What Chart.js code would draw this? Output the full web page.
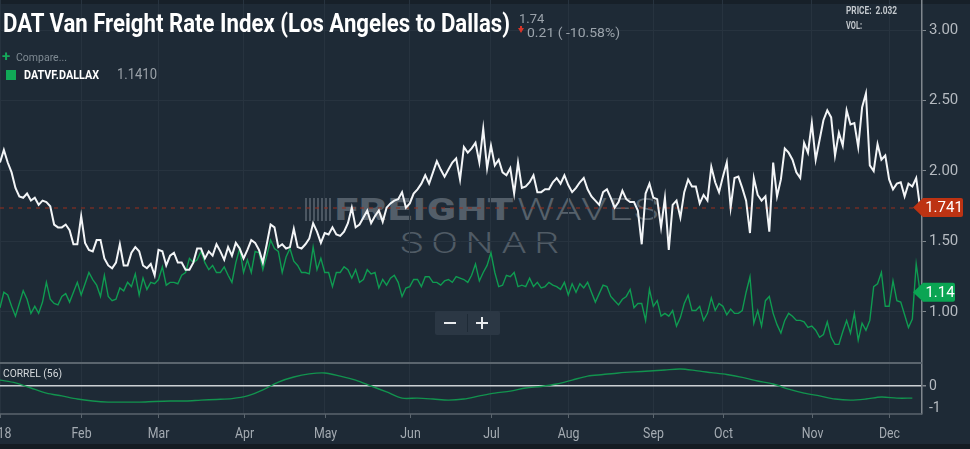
<!DOCTYPE html>
<html><head><meta charset="utf-8">
<script src="https://cdn.jsdelivr.net/npm/chart.js@4.4.1/dist/chart.umd.min.js"></script>
<style>
html,body{margin:0;padding:0;background:#1e2a36;width:970px;height:449px;overflow:hidden;font-family:Roboto,"Noto Sans",sans-serif;}
#wrap{position:relative;width:970px;height:449px;background:#1e2a36;}
.abs{position:absolute;white-space:nowrap;line-height:1;transform-origin:0 0;}
.fit{display:inline-block;}
</style></head><body>
<div id="wrap">
 <div class="abs" style="left:0;top:0;width:970px;height:4px;background:#172029"></div>
 <div class="abs" style="left:0;top:444px;width:970px;height:5px;background:#141b22"></div>
 <!-- watermark -->
 <div class="abs" style="left:305px;top:198px;width:26px;height:23px;background:repeating-linear-gradient(90deg,#515c67 0 2px,transparent 2px 4px);opacity:0.9"></div>
 <div class="abs fit" data-w="180" style="left:335px;top:194px;font-size:31px;font-weight:900;color:#535e69;letter-spacing:1px">FREIGHT</div>
 <div class="abs fit" data-w="143" style="left:517px;top:194px;font-size:31px;font-weight:300;color:#56616b;letter-spacing:1px">WAVES</div>
 <div class="abs fit" data-w="167" style="left:400px;top:228px;font-size:30px;font-weight:300;color:#505b65;letter-spacing:6px">SONAR</div>
 <div style="position:absolute;left:0;top:0;width:970px;height:362px"><canvas id="c1" width="970" height="362"></canvas></div>
 <div style="position:absolute;left:0;top:362px;width:970px;height:82px"><canvas id="c2" width="970" height="82"></canvas></div>
 <!-- header texts -->
 <div class="abs fit" data-w="507" style="left:3px;top:10px;font-size:26px;font-weight:700;color:#ffffff">DAT Van Freight Rate Index (Los Angeles to Dallas)</div>
 <div class="abs" style="left:519px;top:12px;font-size:13px;color:#9ba3ab">1.74</div>
 <div class="abs" style="left:518px;top:28px;width:0;height:0;border-left:3px solid transparent;border-right:3px solid transparent;border-top:5px solid #d8352a"></div>
 <div class="abs" style="left:520px;top:26px;width:2px;height:3px;background:#d8352a"></div>
 <div class="abs fit" data-w="93" style="left:527px;top:25.5px;font-size:13.5px;color:#9ba3ab">0.21 ( -10.58%)</div>
 <div class="abs" style="left:2px;top:49px;font-size:15px;font-weight:700;color:#16a85a">+</div>
 <div class="abs fit" data-w="51" style="left:16px;top:52px;font-size:11.5px;color:#7f8a93">Compare...</div>
 <div class="abs" style="left:6px;top:70px;width:10px;height:10px;background:#10a957"></div>
 <div class="abs fit" data-w="75" style="left:24px;top:69.2px;font-size:12.2px;font-weight:700;color:#ffffff">DATVF.DALLAX</div>
 <div class="abs fit" data-w="40" style="left:117px;top:68px;font-size:14.5px;color:#9aa1a8">1.1410</div>
 <div class="abs fit" data-w="51" style="left:846px;top:6.2px;font-size:10.5px;font-weight:700;color:#c3c8cd">PRICE:&nbsp; 2.032</div>
 <div class="abs fit" data-w="16" style="left:846px;top:20.7px;font-size:10.5px;font-weight:700;color:#c3c8cd">VOL:</div>
 <div class="abs fit" data-w="59" style="left:3px;top:369px;font-size:10.5px;color:#d5d9dc">CORREL (56)</div>
 <!-- zoom buttons -->
 <div class="abs" style="left:435px;top:311px;width:65px;height:24px;background:#2b3744;border-radius:2px"></div>
 <div class="abs" style="left:467px;top:314px;width:1px;height:18px;background:#1e2a36"></div>
 <div class="abs" style="left:444px;top:322px;width:12px;height:2px;background:#e8ebee"></div>
 <div class="abs" style="left:476px;top:322px;width:12px;height:2px;background:#e8ebee"></div>
 <div class="abs" style="left:481px;top:317px;width:2px;height:12px;background:#e8ebee"></div>
</div>
<script>
// ---- data ----
const monthLabels = ['2018','Feb','Mar','Apr','May','Jun','Jul','Aug','Sep','Oct','Nov','Dec'];
const monthIdx    = [0, 21, 41, 63, 84, 106, 127, 147, 169, 187, 210, 230];
const priceTicks  = [1.00, 1.50, 2.00, 2.50, 3.00];
const correlTicks = [0, -1];

const laDallas = [
 2.06,2.15,2.06,1.99,1.88,1.82,1.81,1.84,1.79,1.81,1.76,1.79,1.78,1.75,1.62,1.60,1.60,1.62,1.58,1.48,1.48,1.68,1.49,1.44,1.43,1.51,1.51,1.38,1.33,1.31,1.35,1.48,1.33,1.33,1.42,1.46,1.43,1.33,1.31,1.34,1.26,1.44,1.43,1.33,1.40,
 1.42,1.35,1.35,1.30,1.30,1.35,1.45,1.45,1.38,1.43,1.40,1.48,1.43,1.37,1.46,1.40,1.49,1.45,1.38,1.44,1.51,1.49,1.44,1.35,1.48,1.62,1.60,1.46,1.48,1.45,1.46,1.59,1.46,1.45,1.48,1.52,1.63,1.57,1.49,1.56,1.55,
 1.60,1.55,1.54,1.57,1.63,1.74,1.60,1.62,1.67,1.72,1.63,1.68,1.72,1.64,1.74,1.77,1.79,1.80,1.85,1.74,1.77,1.84,1.87,1.91,1.97,1.91,1.99,2.07,2.01,1.96,2.01,2.06,2.09,1.94,2.17,2.13,2.16,2.20,2.06,2.30,2.02,
 2.18,2.04,2.08,1.99,1.97,2.02,1.84,2.06,1.88,1.89,1.92,1.97,1.85,1.85,1.87,1.87,1.92,1.95,1.91,1.97,1.90,1.85,1.88,1.92,1.95,1.87,1.82,1.79,1.76,1.85,1.87,1.81,1.74,1.78,1.86,1.80,1.78,1.78,1.72,1.48,1.84,
 1.91,1.81,1.80,1.60,1.81,1.44,1.76,1.79,1.67,1.85,1.94,1.89,1.89,1.77,1.83,1.79,2.03,1.92,1.85,1.96,2.06,1.74,1.95,1.96,1.88,1.79,1.56,1.95,1.83,1.79,1.82,1.57,2.06,1.82,1.94,2.16,2.13,2.08,1.99,1.95,2.20,2.13,
 2.34,2.08,2.22,2.36,2.43,2.38,2.11,2.27,2.18,2.43,2.33,2.34,2.17,2.45,2.55,2.04,2.00,2.19,2.08,2.11,1.94,1.87,1.91,1.92,1.82,1.91,1.89,1.95,1.741
];
const dallax = [
 1.03,1.14,1.12,1.04,0.97,1.06,1.15,1.09,0.99,1.04,0.99,1.07,1.21,1.09,1.06,1.05,1.11,1.13,1.07,1.14,1.21,1.12,1.20,1.28,1.23,1.19,1.11,1.26,1.11,1.08,1.09,1.17,1.15,1.21,1.18,1.27,1.12,1.24,1.16,1.21,1.20,1.23,1.32,1.19,1.21,
 1.21,1.20,1.26,1.28,1.38,1.35,1.37,1.43,1.35,1.30,1.33,1.28,1.28,1.32,1.26,1.21,1.35,1.45,1.28,1.37,1.28,1.43,1.42,1.30,1.40,1.51,1.45,1.43,1.28,1.39,1.45,1.36,1.33,1.28,1.28,1.27,1.46,1.30,1.38,1.28,1.28,
 1.18,1.28,1.28,1.32,1.30,1.24,1.30,1.21,1.23,1.30,1.27,1.28,1.17,1.23,1.19,1.24,1.26,1.21,1.11,1.17,1.18,1.23,1.23,1.18,1.25,1.25,1.21,1.21,1.19,1.22,1.23,1.21,1.25,1.24,1.23,1.21,1.26,1.34,1.22,1.28,1.33,
 1.42,1.28,1.18,1.19,1.26,1.25,1.28,1.18,1.19,1.18,1.24,1.18,1.21,1.17,1.18,1.21,1.19,1.18,1.16,1.21,1.12,1.20,1.14,1.20,1.17,1.21,1.14,1.07,1.13,1.19,1.18,1.11,1.08,1.05,1.09,1.11,1.16,1.03,1.06,1.06,0.94,
 1.16,1.04,1.08,0.97,0.99,0.97,1.01,0.90,0.96,1.06,1.12,1.01,1.01,1.04,0.94,0.99,1.10,1.01,1.06,1.04,0.98,1.02,0.99,0.99,1.01,1.14,1.25,0.92,1.01,0.90,1.08,1.11,0.99,0.91,0.85,0.94,0.99,0.97,0.94,0.94,0.93,0.89,
 0.90,0.87,0.82,0.84,0.93,0.82,0.77,0.77,0.86,0.94,0.85,0.99,0.80,0.92,0.87,0.94,1.18,1.20,1.28,1.04,1.04,1.22,1.08,1.07,0.98,0.89,0.95,1.34,1.141
];
const correlStep = 4;
const correl56 = [
 0.27,0.14,-0.09,-0.32,-0.45,-0.59,-0.68,-0.73,-0.73,-0.73,-0.70,-0.68,-0.68,-0.64,-0.61,-0.57,-0.45,-0.18,0.18,0.41,
 0.55,0.59,0.45,0.27,0.00,-0.27,-0.55,-0.55,-0.59,-0.64,-0.59,-0.45,-0.32,-0.23,-0.09,-0.02,0.09,0.27,0.45,0.52,
 0.59,0.64,0.68,0.73,0.77,0.70,0.61,0.52,0.39,0.23,0.09,-0.14,-0.32,-0.45,-0.59,-0.64,-0.59,-0.50,-0.55,-0.55
];
const lastPrice = 1.741, lastCompare = 1.14;

// ---- fit text widths ----
document.querySelectorAll('.fit').forEach(el=>{
  const t = parseFloat(el.dataset.w); const w = el.getBoundingClientRect().width;
  if (w>0) el.style.transform = 'scaleX('+(t/w)+')';
});

const xMax = laDallas.length - 0.5;
const GRID = '#27333f', AXIS = '#80878e';

const xScale = {
  type:'linear', min:0, max:xMax,
  border:{display:false},
  grid:{color:GRID, drawTicks:false},
  ticks:{display:false},
  afterBuildTicks: s => { s.ticks = monthIdx.map(v=>({value:v})); },
  afterFit: s => { s.paddingLeft = 0; s.paddingRight = 0; }
};

const priceTags = {
  id:'priceTags',
  beforeDatasetsDraw(chart){
    const {ctx, chartArea:a, scales:{y}} = chart;
    const py = y.getPixelForValue(lastPrice);
    ctx.save();
    ctx.strokeStyle = '#9a2f1d'; ctx.lineWidth = 1; ctx.setLineDash([4,5]);
    ctx.beginPath(); ctx.moveTo(a.left, py+0.5); ctx.lineTo(a.right-8, py+0.5); ctx.stroke();
    ctx.restore();
  },
  afterDraw(chart){
    const {ctx, chartArea:a, scales:{y}} = chart;
    const tag = (val, txt, color, right) => {
      const py = y.getPixelForValue(val), h = 19, tip = a.right - 9, body = a.right + 1, r = 2;
      ctx.save();
      ctx.fillStyle = color;
      ctx.beginPath();
      ctx.moveTo(tip, py);
      ctx.lineTo(body, py - h/2);
      ctx.lineTo(right - r, py - h/2);
      ctx.quadraticCurveTo(right, py - h/2, right, py - h/2 + r);
      ctx.lineTo(right, py + h/2 - r);
      ctx.quadraticCurveTo(right, py + h/2, right - r, py + h/2);
      ctx.lineTo(body, py + h/2);
      ctx.closePath(); ctx.fill();
      ctx.fillStyle = '#ffffff';
      ctx.font = '15px Roboto';
      ctx.textBaseline = 'middle'; ctx.textAlign = 'center';
      ctx.fillText(txt, (body + right)/2 + 1, py + 1);
      ctx.restore();
    };
    tag(lastPrice, lastPrice.toFixed(3), '#bd3313', 963);
    tag(lastCompare, lastCompare.toFixed(2), '#0aa553', 955);
  }
};

new Chart(document.getElementById('c1'), {
  type:'line',
  data:{datasets:[
    {data: laDallas.map((v,i)=>({x:i,y:v})), borderColor:'#f3f5f7', borderWidth:2, pointRadius:0, tension:0},
    {data: dallax.map((v,i)=>({x:i,y:v})), borderColor:'#0f9b51', borderWidth:1.4, pointRadius:0, tension:0}
  ]},
  options:{
    responsive:false, animation:false, events:[],
    layout:{padding:0},
    plugins:{legend:{display:false}, tooltip:{enabled:false}},
    scales:{
      x: xScale,
      y:{
        position:'right', min:0.645, max:3.213,
        border:{display:true, color:AXIS, width:1.5},
        grid:{color:GRID, tickLength:4, tickColor:AXIS, drawTicks:true},
        ticks:{color:'#b5bac0', font:{family:'Roboto', size:15}, padding:3, callback:v=>Number(v).toFixed(2)},
        afterBuildTicks: s => { s.ticks = priceTicks.map(v=>({value:v})); },
        afterFit: s => { s.width = 48; s.paddingTop = 0; s.paddingBottom = 0; }
      }
    }
  },
  plugins:[priceTags]
});

const correlDecor = {
  id:'correlDecor',
  afterDraw(chart){
    const {ctx, chartArea:a, scales:{x}} = chart;
    ctx.save();
    ctx.strokeStyle = '#5b656e'; ctx.lineWidth = 2;
    ctx.beginPath(); ctx.moveTo(0, 1); ctx.lineTo(a.right, 1); ctx.stroke();
    ctx.lineWidth = 1.5;
    ctx.beginPath(); ctx.moveTo(0, a.bottom); ctx.lineTo(a.right, a.bottom); ctx.stroke();
    ctx.strokeStyle = '#5b656e'; ctx.lineWidth = 1;
    ctx.fillStyle = '#a4abb2';
    ctx.font = '14px Roboto';
    ctx.textAlign = 'center'; ctx.textBaseline = 'alphabetic';
    monthIdx.forEach((m, i) => {
      const px = Math.round(x.getPixelForValue(m)) + 0.5;
      ctx.beginPath(); ctx.moveTo(px, a.bottom); ctx.lineTo(px, a.bottom + 4); ctx.stroke();
      ctx.save(); ctx.translate(px - (i===0?3:0), 76); ctx.scale(0.88, 1);
      ctx.fillText(monthLabels[i], 0, 0); ctx.restore();
    });
    ctx.restore();
  }
};

new Chart(document.getElementById('c2'), {
  type:'line',
  data:{datasets:[
    {data: correl56.map((v,i)=>({x:i*correlStep,y:v})), borderColor:'#12934e', borderWidth:1.4, pointRadius:0, tension:0.3}
  ]},
  options:{
    responsive:false, animation:false, events:[],
    layout:{padding:{bottom:30}},
    plugins:{legend:{display:false}, tooltip:{enabled:false}},
    scales:{
      x: Object.assign({}, xScale),
      y:{
        position:'right', min:-1.27, max:1.09,
        border:{display:true, color:AXIS, width:1.5},
        grid:{color: c => (c.tick && c.tick.value === 0) ? '#cdd1d5' : 'rgba(0,0,0,0)', lineWidth: c => (c.tick && c.tick.value === 0) ? 1.5 : 0, tickLength:4, tickColor:AXIS, drawTicks:true},
        ticks:{color:'#b5bac0', font:{family:'Roboto', size:14}, padding:3, callback:v=>String(v)},
        afterBuildTicks: s => { s.ticks = correlTicks.map(v=>({value:v})); },
        afterFit: s => { s.width = 48; s.paddingTop = 0; s.paddingBottom = 0; }
      }
    }
  },
  plugins:[correlDecor]
});
</script>
</body></html>
